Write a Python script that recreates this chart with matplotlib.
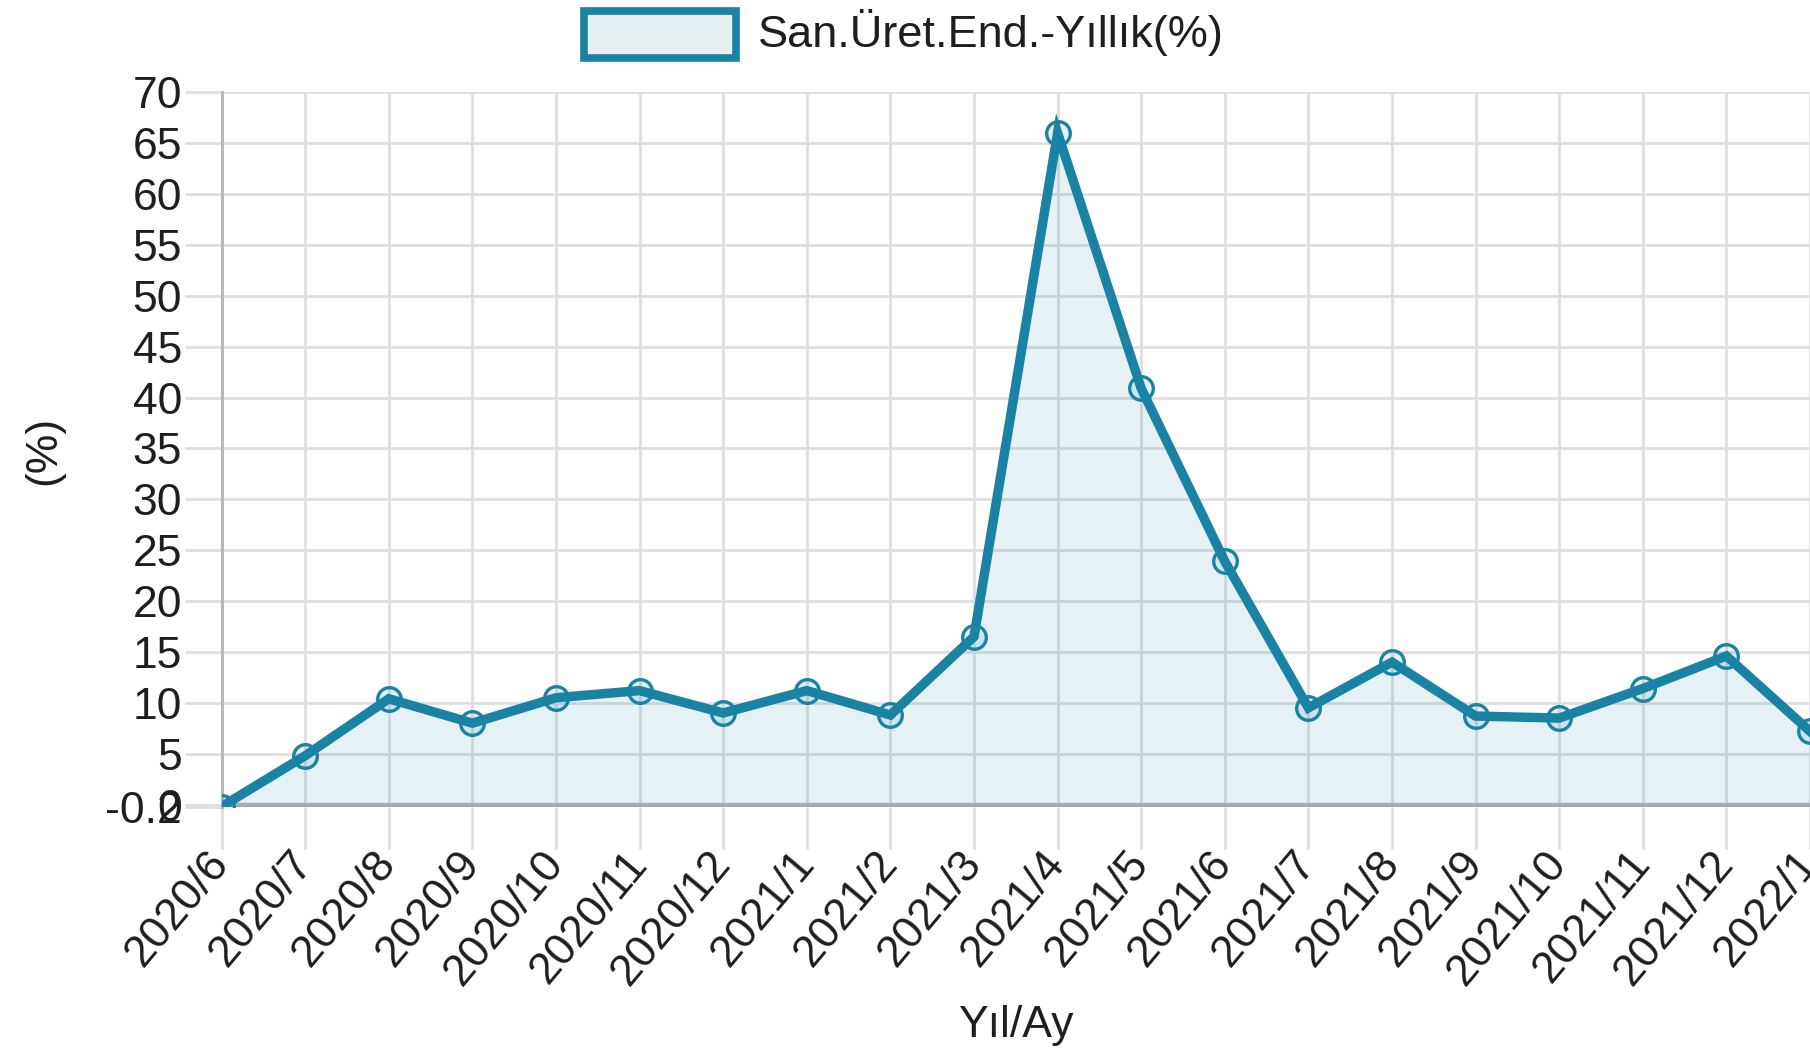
import matplotlib
matplotlib.use('Agg')
import matplotlib.pyplot as plt
from matplotlib.patches import Rectangle

plt.rcParams['font.family'] = ['Liberation Sans', 'DejaVu Sans']

# Data
months = ['2020/6', '2020/7', '2020/8', '2020/9', '2020/10', '2020/11', '2020/12',
          '2021/1', '2021/2', '2021/3', '2021/4', '2021/5', '2021/6', '2021/7',
          '2021/8', '2021/9', '2021/10', '2021/11', '2021/12', '2022/1']
values = [-0.2, 4.8, 10.4, 8.0, 10.5, 11.2, 9.0,
          11.2, 8.8, 16.5, 66.0, 40.9, 23.9, 9.5,
          14.0, 8.7, 8.5, 11.4, 14.6, 7.2]
y_ticks = [-0.2, 0, 5, 10, 15, 20, 25, 30, 35, 40, 45, 50, 55, 60, 65, 70]
legend_label = 'San.Üret.End.-Yıllık(%)'

W, H = 1810, 1052
line_color = '#1a83a3'
fill_color = (0.10, 0.51, 0.64, 0.11)
grid_color = '#dfdfdf'
text_color = '#1e1e1e'
fs = 32

fig = plt.figure(figsize=(W / 100, H / 100), dpi=100)
fig.patch.set_facecolor('white')

# axes runs past the right edge of the picture, like the cropped original
ax = fig.add_axes([221.6 / W, 1 - 806.6 / H, 20 * 83.6 / W, (806.6 - 92.3) / H])
ax.set_facecolor('none')

x = list(range(len(months)))
ax.fill_between(x, values, -0.2, color=fill_color, linewidth=0, zorder=2)
ax.plot(x, values, color=line_color, linewidth=6.8, solid_joinstyle='miter', zorder=3)
ax.plot(x, values, linestyle='none', marker='o', markersize=17,
        markerfacecolor=fill_color, markeredgecolor=line_color,
        markeredgewidth=2.4, zorder=4)

ax.set_xlim(0, 20)
ax.set_ylim(-0.2, 70)

ax.set_yticks(y_ticks)
ax.set_yticklabels(['-0.2'] + [str(v) for v in y_ticks[1:]])
ax.set_xticks(x)
ax.set_xticklabels(months, rotation=50, ha='right', va='center', rotation_mode='anchor')

ax.grid(True, color=grid_color, linewidth=2.0, zorder=0)
ax.set_axisbelow(True)
ax.axhline(0, color='#b4b4b4', linewidth=3.2, zorder=1)

ax.tick_params(axis='y', length=26.6, width=2.0, color=grid_color, pad=2,
               labelsize=fs, labelcolor=text_color)
ax.tick_params(axis='x', length=30, width=2.0, color=grid_color, pad=6,
               labelsize=fs, labelcolor=text_color)

for s in ['top', 'right', 'bottom']:
    ax.spines[s].set_visible(False)
ax.spines['left'].set_color('#b8b8b8')
ax.spines['left'].set_linewidth(2.2)

# axis titles
fig.text(44 / W, 1 - 450 / H, '(%)', rotation=90, ha='center', va='center',
         fontsize=fs, color=text_color)
fig.text(1016 / W, 1 - 1025 / H, 'Yıl/Ay', ha='center', va='center',
         fontsize=fs, color=text_color)

# legend drawn by hand at the top
fig.patches.append(Rectangle((584 / W, 1 - 58 / H), 152 / W, 47 / H,
                             transform=fig.transFigure, facecolor='#e6f0f3',
                             edgecolor=line_color, linewidth=5.5))
fig.text(758 / W, 1 - 32 / H, legend_label, ha='left', va='center',
         fontsize=fs + 0.5, color=text_color)

fig.savefig('out.png', dpi=100)
